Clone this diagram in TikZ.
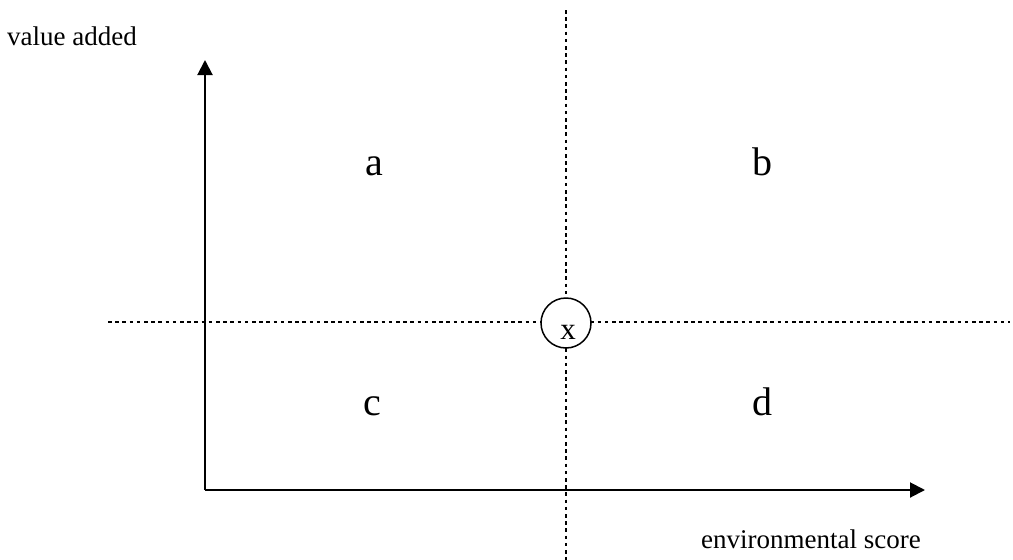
\documentclass[tikz,border=0pt]{standalone}
\usepackage{fontspec}
\setmainfont{Liberation Serif}
\usetikzlibrary{arrows.meta}
\begin{document}
\begin{tikzpicture}[x=1pt,y=-1pt,
  axis/.style={line width=2pt,-{Triangle[length=15pt,width=15pt]}},
  guide/.style={line width=1.5pt,dash pattern=on 3.5pt off 3.7pt},
  small/.style={font=\fontsize{27}{32}\selectfont,inner sep=0pt},
  big/.style={font=\fontsize{40}{46}\selectfont,inner sep=0pt,anchor=base}]
\useasboundingbox[fill=white] (0,0) rectangle (1013,560);
\coordinate (O) at (205,490);
\coordinate (Ytop) at (205,60);
\coordinate (Xend) at (925,490);
\coordinate (Vt) at (566,10);
\coordinate (Vb) at (566,560);
\coordinate (Hl) at (108,322);
\coordinate (Hr) at (1010,322);
\draw[guide] (Vt) -- (Vb);
\draw[guide] (Hl) -- (Hr);
\draw[axis] (O) -- (Ytop);
\draw[axis] (O) -- (Xend);
\node[circle,draw,line width=1.5pt,fill=white,minimum size=50pt,inner sep=0pt] (X) at (566,323) {};
\node[font=\fontsize{31}{36}\selectfont,inner sep=0pt,anchor=base] (xl) at (568,339) {x};
\node[small,anchor=base] (va) at (72,45) {value added};
\node[small,anchor=base] (es) at (811,548) {environmental score};
\node[big] (a) at (374,175) {a};
\node[big] (b) at (762,175) {b};
\node[big] (c) at (372,415) {c};
\node[big] (d) at (762,415) {d};
\end{tikzpicture}
\end{document}
